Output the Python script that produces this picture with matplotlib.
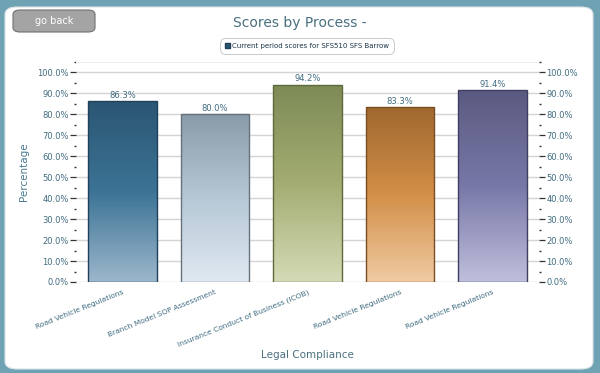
import matplotlib
matplotlib.use('Agg')
import matplotlib.pyplot as plt
import numpy as np
from matplotlib.patches import FancyBboxPatch
from matplotlib.colors import LinearSegmentedColormap
from matplotlib.ticker import MultipleLocator, FuncFormatter

processes = ['Road Vehicle Regulations', 'Branch Model SOP Assessment',
             'Insurance Conduct of Business (ICOB)', 'Road Vehicle Regulations',
             'Road Vehicle Regulations']
scores = [86.3, 80.0, 94.2, 83.3, 91.4]
# gradient colours per bar: top, middle, bottom
bar_colors = [
    ('#2b5673', '#3c7395', '#9cb7cc'),
    ('#8a9caa', '#b6c8d6', '#e0e9f1'),
    ('#7d8a56', '#a3ad72', '#d4dab6'),
    ('#9f682f', '#d38f48', '#f0cba3'),
    ('#5a5a80', '#7878a8', '#bfbfdc'),
]
edge_colors = ['#1f425a', '#66737c', '#5e6a3c', '#7a4e22', '#3e3e62']

text_col = '#3f6b80'

fig = plt.figure(figsize=(6, 3.73), dpi=100)
fig.patch.set_facecolor('#6fa2b2')

# white panel
panel = FancyBboxPatch((5 / 600, 4 / 373), 588 / 600, 362 / 373,
                       boxstyle='round,pad=0,rounding_size=0.02',
                       transform=fig.transFigure, facecolor='white',
                       edgecolor='#d8e4e8', lw=0.8, zorder=-5)
fig.patches.append(panel)

# go back button
btn = FancyBboxPatch((13 / 600, 341 / 373), 82 / 600, 22 / 373,
                     boxstyle='round,pad=0,rounding_size=0.012',
                     transform=fig.transFigure, facecolor='#a4a4a4',
                     edgecolor='#707070', lw=0.8, zorder=-4)
fig.patches.append(btn)
fig.text(54 / 600, 352 / 373, 'go back', color='white', fontsize=7,
         ha='center', va='center')

fig.text(0.5, 350 / 373, 'Scores by Process -', color='#4a7080',
         fontsize=10, ha='center', va='center')

ax = fig.add_axes([0.127, 0.244, 0.771, 0.590])
ax.patch.set_alpha(0)
x = np.arange(len(scores))
bars = ax.bar(x, scores, width=0.74, facecolor='none',
              edgecolor=edge_colors, linewidth=1.0, zorder=4)

for rect, cols in zip(bars, bar_colors):
    cmap = LinearSegmentedColormap.from_list('g', [cols[2], cols[1], cols[0]])
    grad = np.linspace(0, 1, 256).reshape(-1, 1)
    x0 = rect.get_x()
    im = ax.imshow(grad, extent=[x0, x0 + rect.get_width(), 0, rect.get_height()],
                   origin='lower', aspect='auto', cmap=cmap, zorder=3)
    im.set_clip_path(rect)

for xi, v in zip(x, scores):
    ax.text(xi, v + 0.6, '%.1f%%' % v, ha='center', va='bottom',
            fontsize=6, color=text_col, zorder=5)

ax.set_xlim(-0.5, len(scores) - 0.5)
ax.set_ylim(0, 105)
ax.yaxis.set_major_locator(MultipleLocator(10))
ax.yaxis.set_minor_locator(MultipleLocator(5))
ax.yaxis.set_major_formatter(FuncFormatter(lambda v, p: '%.1f%%' % v))
ax.grid(axis='y', which='major', color='#d4d4d4', lw=1.0, zorder=1)
ax.axhline(105, color='#eeeeee', lw=0.8, zorder=1)
ax.set_axisbelow(True)
for s in ax.spines.values():
    s.set_visible(False)

ax.tick_params(axis='y', which='major', length=4, width=0.9, color='#333333',
               labelsize=6, labelcolor=text_col, left=True, right=True,
               labelleft=True, labelright=True, pad=1.5)
ax.tick_params(axis='y', which='minor', length=1.5, width=1.0, color='#333333',
               left=True, right=True)
ax.set_xticks(x)
ax.set_xticklabels(processes, rotation=22, ha='right', rotation_mode='anchor',
                   fontsize=5.4, color=text_col)
ax.tick_params(axis='x', length=0, pad=5)

ax.set_ylabel('Percentage', fontsize=7.5, color='#4a7a90', labelpad=6)
ax.set_xlabel('Legal Compliance', fontsize=7.5, color='#4a7080')
ax.xaxis.set_label_coords(0.5, -0.31)

leg = fig.legend(handles=[plt.Rectangle((0, 0), 1, 1, facecolor='#2b5673',
                                        edgecolor='#1f425a')],
                 labels=['Current period scores for SFS510 SFS Barrow'],
                 loc='center', bbox_to_anchor=(307 / 600, 327 / 373),
                 fontsize=5, frameon=True, handlelength=0.7, handleheight=0.7,
                 handletextpad=0.4, borderpad=0.7, fancybox=True,
                 labelcolor='#1a3548')
leg.get_frame().set_edgecolor('#bbbbbb')
leg.get_frame().set_linewidth(0.7)
leg.get_frame().set_boxstyle('round,pad=0,rounding_size=0.8')

fig.savefig('out.png', dpi=100, facecolor=fig.get_facecolor())
